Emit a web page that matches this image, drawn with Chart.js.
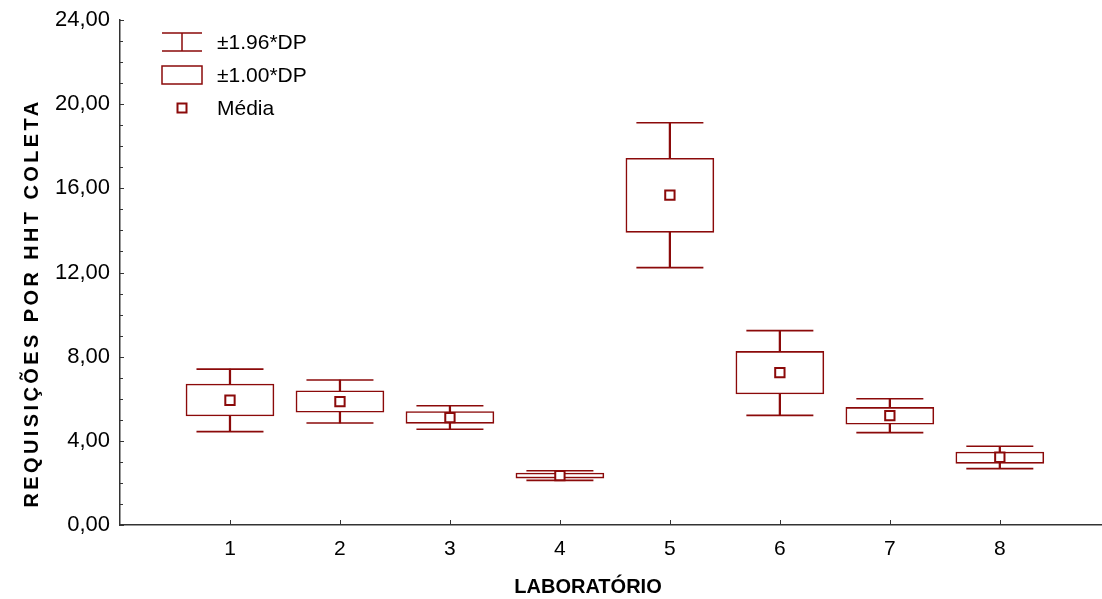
<!DOCTYPE html>
<html>
<head>
<meta charset="utf-8">
<script src="https://cdn.jsdelivr.net/npm/chart.js@4.4.0/dist/chart.umd.min.js"></script>
<style>
  html, body { margin: 0; padding: 0; background: #fff; }
  #wrap { width: 1102px; height: 599px; }
</style>
</head>
<body>
<div id="wrap"><canvas id="boxChart"></canvas></div>
<script>
// values
const labs      = [1, 2, 3, 4, 5, 6, 7, 8];
const whiskLow  = [4.44, 4.85, 4.55, 2.12, 12.23, 5.21, 4.39, 2.68];
const boxLow    = [5.18, 5.36, 4.83, 2.23, 13.91, 6.23, 4.79, 2.93];
const means     = [5.93, 5.86, 5.10, 2.35, 15.68, 7.24, 5.20, 3.22];
const boxHigh   = [6.70, 6.38, 5.39, 2.47, 17.43, 8.25, 5.59, 3.47];
const whiskHigh = [7.41, 6.89, 5.67, 2.58, 19.12, 9.24, 6.00, 3.74];
const legendLabels = ['±1.96*DP', '±1.00*DP', 'Média'];
const xTitle = 'LABORATÓRIO';
const yTitle = 'REQUISIÇÕES POR HHT COLETA';

const RED = '#8b0a0a';
const AXIS = '#333';
const FONT = '"Liberation Sans", Arial, sans-serif';
Chart.defaults.font.family = FONT;
Chart.defaults.color = '#000';

// ticks pointing into the plot, with minor ticks on y
const inwardTicks = {
  id: 'inwardTicks',
  afterDraw(chart) {
    const { ctx, scales: { x, y } } = chart;
    ctx.save();
    ctx.strokeStyle = AXIS;
    ctx.lineWidth = 1;
    for (let v = 0; v <= 24; v++) {
      const py = Math.round(y.getPixelForValue(v)) + 0.5;
      const len = v % 4 === 0 ? 4 : 3;
      ctx.beginPath();
      ctx.moveTo(x.left, py);
      ctx.lineTo(x.left + len, py);
      ctx.stroke();
    }
    labs.forEach(l => {
      const px = Math.round(x.getPixelForValue(l)) + 0.5;
      ctx.beginPath();
      ctx.moveTo(px, y.bottom);
      ctx.lineTo(px, y.bottom - 5);
      ctx.stroke();
    });
    ctx.restore();
  }
};

// legend with the box-plot symbols, and both axis titles
const boxLegend = {
  id: 'boxLegend',
  afterDraw(chart) {
    const ctx = chart.ctx;
    const x0 = 162, x1 = 202, xm = 182, tx = 217;
    const rows = [42, 75, 108];
    ctx.save();
    ctx.strokeStyle = RED;
    ctx.lineWidth = 1.5;
    ctx.beginPath();
    ctx.moveTo(x0, rows[0] - 9); ctx.lineTo(x1, rows[0] - 9);
    ctx.moveTo(x0, rows[0] + 9); ctx.lineTo(x1, rows[0] + 9);
    ctx.moveTo(xm, rows[0] - 9); ctx.lineTo(xm, rows[0] + 9);
    ctx.stroke();
    ctx.strokeRect(x0, rows[1] - 9, x1 - x0, 18);
    ctx.lineWidth = 2;
    ctx.strokeRect(xm - 4.5, rows[2] - 4.5, 9, 9);
    ctx.fillStyle = '#000';
    ctx.font = '21px ' + FONT;
    ctx.textBaseline = 'middle';
    legendLabels.forEach((t, i) => ctx.fillText(t, tx, rows[i] + 1));

    ctx.font = 'bold 20px ' + FONT;
    ctx.textAlign = 'center';
    ctx.fillText(xTitle, 588, 587);

    ctx.translate(32, 303);
    ctx.rotate(-Math.PI / 2);
    ctx.letterSpacing = '3.4px';
    ctx.fillText(yTitle, 0, 0);
    ctx.restore();
  }
};

const ctx = document.getElementById('boxChart').getContext('2d');
new Chart(ctx, {
  data: {
    datasets: [
      {
        type: 'bar',
        label: 'whisker',
        data: labs.map((l, i) => ({ x: l, y: [whiskLow[i], whiskHigh[i]] })),
        backgroundColor: RED,
        borderWidth: 0,
        barThickness: 1.6,
        grouped: false,
        order: 4
      },
      {
        type: 'bar',
        label: '±1.00*DP',
        data: labs.map((l, i) => ({ x: l, y: [boxLow[i], boxHigh[i]] })),
        backgroundColor: '#fff',
        borderColor: RED,
        borderWidth: 1.6,
        borderSkipped: false,
        barThickness: 88,
        grouped: false,
        order: 3
      },
      {
        type: 'scatter',
        label: 'caps',
        data: labs.flatMap((l, i) => [{ x: l, y: whiskLow[i] }, { x: l, y: whiskHigh[i] }]),
        pointStyle: 'line',
        radius: 33.5,
        borderColor: RED,
        borderWidth: 1.6,
        order: 2
      },
      {
        type: 'scatter',
        label: 'Média',
        data: labs.map((l, i) => ({ x: l, y: means[i] })),
        pointStyle: 'rect',
        radius: 6.6,
        backgroundColor: '#fff',
        borderColor: RED,
        borderWidth: 2,
        order: 1
      }
    ]
  },
  options: {
    responsive: true,
    maintainAspectRatio: false,
    animation: false,
    events: [],
    layout: { autoPadding: false, padding: { top: 20, right: 1, left: 0, bottom: 0 } },
    plugins: { legend: { display: false }, tooltip: { enabled: false } },
    scales: {
      x: {
        type: 'linear',
        min: 0,
        max: 8.92,
        offset: false,
        afterFit: s => { s.height = 74; s.paddingLeft = 0; s.paddingRight = 0; },
        grid: { display: true, drawOnChartArea: false, drawTicks: false, offset: false },
        border: { color: AXIS, width: 1.5 },
        ticks: {
          stepSize: 1,
          autoSkip: false,
          padding: 12,
          font: { size: 21 },
          callback: v => (v >= 1 && v <= 8 ? String(v) : '')
        }
      },
      y: {
        min: 0,
        max: 24,
        afterFit: s => { s.width = 120; s.paddingTop = 0; s.paddingBottom = 0; },
        grid: { display: true, drawOnChartArea: false, drawTicks: false },
        border: { color: AXIS, width: 1.5 },
        ticks: {
          stepSize: 1,
          autoSkip: false,
          padding: 10,
          font: { size: 22 },
          callback: v => (v % 4 === 0 ? v.toFixed(2).replace('.', ',') : '')
        }
      }
    }
  },
  plugins: [inwardTicks, boxLegend]
});
</script>
</body>
</html>
